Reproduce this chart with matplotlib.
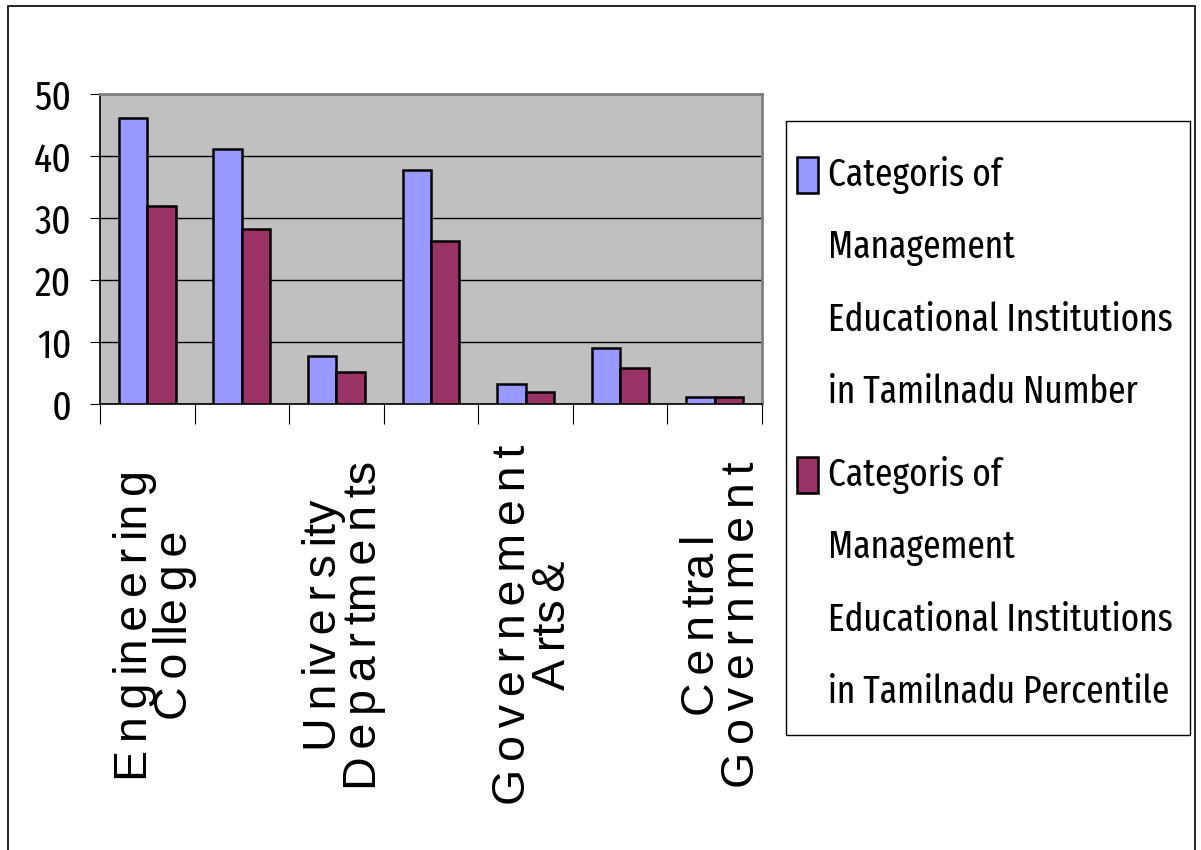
import matplotlib
matplotlib.use("Agg")
import matplotlib.pyplot as plt
from matplotlib import font_manager
from matplotlib.patches import Rectangle

names = {f.name for f in font_manager.fontManager.ttflist}
NARROW = "Liberation Sans"
for cand in ["Fira Sans Extra Condensed", "Sofia Sans Extra Condensed", "Saira ExtraCondensed",
             "Barlow Condensed", "Liberation Sans Narrow", "Roboto Condensed",
             "PT Sans Narrow", "Archivo Narrow", "Asap Condensed"]:
    if cand in names:
        NARROW = cand
        break
plt.rcParams["font.family"] = [NARROW, "DejaVu Sans"]
WIDE = ["Liberation Sans", "DejaVu Sans"]
SP = "\u2006"

# ---- data ----
categories = ["Engineering College", "Self Financing Colleges", "University Departments",
              "Affiliated Colleges", "Governement Arts &", "Other Institutions",
              "Central Government"]
tick_labels = [["E n g in e e r in g", "C o lle g e"], None,
               ["U n iv e r s ity", "D e p a r tm e n ts"], None,
               ["G o v e r n e m e n t", "A rts &"], None,
               ["C e n tra l", "G o v e r n m e n t"]]
number = [46.2, 41.1, 7.7, 37.8, 3.2, 9.0, 1.2]
percentile = [32.0, 28.2, 5.1, 26.3, 1.9, 5.8, 1.2]
series_names = ["Categoris of\nManagement\nEducational Institutions\nin Tamilnadu Number",
                "Categoris of\nManagement\nEducational Institutions\nin Tamilnadu Percentile"]
yticks = [0, 10, 20, 30, 40, 50]
colors = ["#9999FF", "#993366"]

W, H = 1201, 850
fig = plt.figure(figsize=(W / 100, H / 100), dpi=100)
fig.patch.set_facecolor("white")
renderer = fig.canvas.get_renderer()


def fit_size(text, target_px, family, base=30.0):
    t = fig.text(0, 0, text, fontsize=base, family=family)
    w = t.get_window_extent(renderer).width
    t.remove()
    return base * target_px / w


def spaced(s):
    return s.replace(" ", SP)


leg_fs = fit_size("Educational Institutions", 345, [NARROW, "DejaVu Sans"])
ytick_fs = fit_size("50", 37, [NARROW, "DejaVu Sans"])
xl_fs = fit_size(spaced("E n g in e e r in g"), 310, WIDE)

# outer border
fig.add_artist(Rectangle((8 / W, -0.01), (1195 - 8) / W, 1.01 - 6 / H,
                         transform=fig.transFigure, fill=False, ec="black", lw=1.2))

ax = fig.add_axes([100 / W, 1 - 404 / H, (762 - 100) / W, (404 - 94) / H])
ax.set_facecolor("#C0C0C0")

x = list(range(len(categories)))
bw = 0.3
ax.bar([i - bw / 2 for i in x], number, width=bw, color=colors[0], edgecolor="black",
       linewidth=1.8, zorder=3)
ax.bar([i + bw / 2 for i in x], percentile, width=bw, color=colors[1], edgecolor="black",
       linewidth=1.8, zorder=3)

ax.set_xlim(-0.5, len(categories) - 0.5)
ax.set_ylim(0, 50)
ax.set_yticks(yticks)
ax.set_yticklabels([str(v) for v in yticks], fontsize=ytick_fs)
ax.yaxis.grid(True, color="black", lw=1.0, zorder=1)
ax.set_axisbelow(True)

ax.set_xticks([i - 0.5 for i in range(len(categories) + 1)])
ax.set_xticklabels([])
ax.tick_params(axis="x", length=14.4, width=0.8, color="black", direction="out")
ax.tick_params(axis="y", length=7.5, width=0.8, color="black", direction="out", pad=13)

for s in ["top", "right"]:
    ax.spines[s].set_color("#808080")
    ax.spines[s].set_linewidth(2)
for s in ["left", "bottom"]:
    ax.spines[s].set_color("black")
    ax.spines[s].set_linewidth(1.2)

for i, lab in enumerate(tick_labels):
    if lab:
        txt = "\n".join(spaced(l) for l in lab)
        ax.text(i + 0.08, -0.713, txt, transform=ax.get_xaxis_transform(),
                rotation=90, ha="center", va="center", multialignment="center",
                fontsize=xl_fs, linespacing=0.87, family=WIDE)

# legend (manual)
fig.add_artist(Rectangle((786 / W, 1 - 735 / H), (1190 - 786) / W, (735 - 121) / H,
                         transform=fig.transFigure, fill=False, ec="black", lw=1))
line_pitch = 72.5
for k, (name, col) in enumerate(zip(series_names, colors)):
    yc = 175 + k * 300
    fig.add_artist(Rectangle((797 / W, 1 - (yc + 18) / H), 21 / W, 36 / H,
                             transform=fig.transFigure, fc=col, ec="black", lw=1.8))
    for j, line in enumerate(name.split("\n")):
        fig.text(828 / W, 1 - (yc + j * line_pitch) / H, line, ha="left", va="center",
                 fontsize=leg_fs)

fig.savefig("out.png", dpi=100, facecolor="white")
